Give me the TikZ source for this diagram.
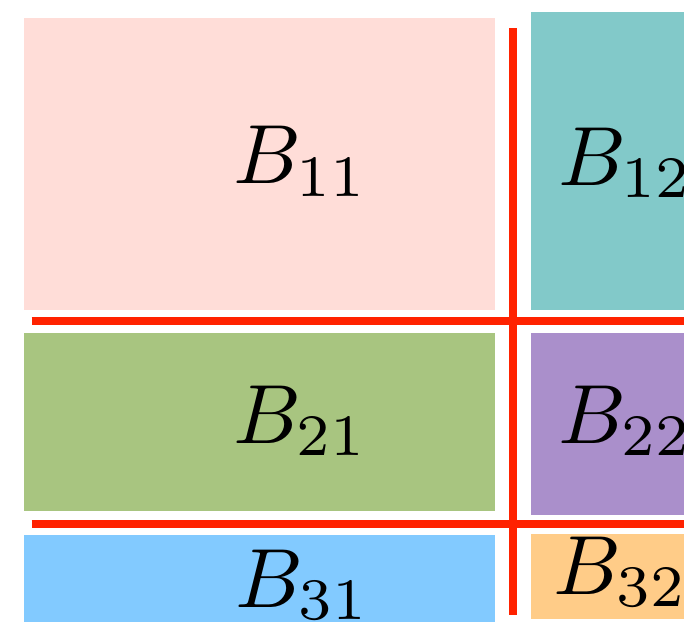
\documentclass[tikz,border=0pt]{standalone}
\definecolor{cpink}{HTML}{FFDDD8}
\definecolor{cteal}{HTML}{82C9C9}
\definecolor{cgreen}{HTML}{A8C580}
\definecolor{cpurple}{HTML}{AA8FCB}
\definecolor{cblue}{HTML}{82CAFF}
\definecolor{corange}{HTML}{FFCC88}
\definecolor{cred}{HTML}{FF2200}
\newcommand{\blk}[1]{\scalebox{8.4}{$#1$}}
\begin{document}
\begin{tikzpicture}[x=1pt,y=-1pt,
  lbl/.style={anchor=base west,inner sep=0pt},
  divider/.style={draw=cred,line width=8pt}]
\useasboundingbox (0,0) rectangle (684,621);
\fill[cpink]   (23.5,17.7)  rectangle (494.7,310);
\fill[cteal]   (530.7,12)   rectangle (700,310);
\fill[cgreen]  (23.5,332.7) rectangle (494.7,510.7);
\fill[cpurple] (530.7,332.7) rectangle (700,514.7);
\fill[cblue]   (23.5,535)   rectangle (494.7,630);
\fill[corange] (530.7,534)  rectangle (700,619.3);
\draw[divider] (31.7,321.3) -- (700,321.3);
\draw[divider] (31.7,524.3) -- (700,524.3);
\draw[divider] (512.5,28) -- (512.5,615);
\node[lbl] (b11) at (233,183.5) {\blk{B_{11}}};
\node[lbl] (b12) at (558,185) {\blk{B_{12}}};
\node[lbl] (b21) at (233,443) {\blk{B_{21}}};
\node[lbl] (b22) at (558,443) {\blk{B_{22}}};
\node[lbl] (b31) at (235,607) {\blk{B_{31}}};
\node[lbl] (b32) at (553,594) {\blk{B_{32}}};
\end{tikzpicture}
\end{document}
